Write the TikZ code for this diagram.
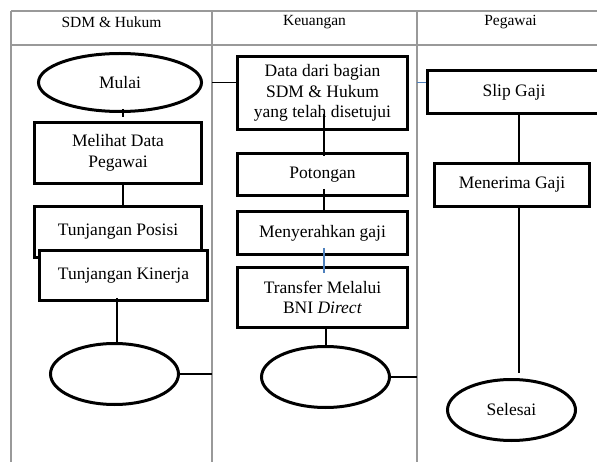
\documentclass[tikz,border=0pt]{standalone}
\usepackage{fontspec}
\setmainfont{Liberation Serif}
\usepackage{xcolor}
\usetikzlibrary{shapes.geometric, positioning}

\definecolor{linkblue}{HTML}{4F81BD}

\begin{document}
\begin{tikzpicture}[x=1pt, y=-1pt, thick,
    box/.style={draw, line width=3pt, fill=white, align=center, inner sep=2pt, font=\fontsize{17.5}{20.5}\selectfont},
    term/.style={ellipse, draw, line width=3pt, fill=white, inner sep=0pt, minimum width=128pt, minimum height=61pt, font=\fontsize{17.5}{20.5}\selectfont},
    link/.style={line width=2pt},
    lane/.style={draw=gray!80, line width=1.3pt},
    head/.style={font=\fontsize{15.5}{18}\selectfont}]
    \useasboundingbox (0,0) rectangle (597,462);

    \draw[lane] (11,11) -- (597,11);
    \draw[lane] (11,45) -- (597,45);
    \draw[lane] (11,11) -- (11,462);
    \draw[lane] (212,11) -- (212,462);
    \draw[lane] (417,11) -- (417,462);
    \coordinate (L1) at (212,45);
    \coordinate (L2) at (417,45);

    \node[head] (H1) at (111.5,22) {SDM \& Hukum};
    \node[head] (H2) at (314.5,22) {Keuangan};
    \node[head] (H3) at (510.5,22) {Pegawai};

    \node[term, minimum width=163pt, minimum height=58pt] (Mulai) at (120,82.5) {Mulai};
    \node[box, minimum width=167pt, minimum height=61pt] (Lihat) at (118,153) {Melihat Data\\Pegawai};
    \node[box, minimum width=167pt, minimum height=51pt] (Posisi) at (118,232) {Tunjangan Posisi};
    \node[box, minimum width=168pt, minimum height=50pt] (Kinerja) at (123.5,275.5) {Tunjangan Kinerja};
    \node[term] (Akhir1) at (114.5,374) {};

    \node[box, minimum width=170pt, minimum height=73pt] (Data) at (322.5,93) {Data dari bagian\\SDM \& Hukum\\yang telah disetujui};
    \node[box, minimum width=170pt, minimum height=42pt] (Potongan) at (322.5,174.5) {Potongan};
    \node[box, minimum width=170pt, minimum height=43pt] (Serah) at (322.5,233) {Menyerahkan gaji};
    \node[box, minimum width=170pt, minimum height=60pt] (Transfer) at (322.5,297.5) {Transfer Melalui\\BNI \textit{Direct}};
    \node[term] (Akhir2) at (325.5,377) {};

    \node[box, minimum width=173pt, minimum height=43pt] (Slip) at (514,92) {Slip Gaji};
    \node[box, minimum width=155pt, minimum height=43pt] (Terima) at (512,185) {Menerima Gaji};
    \node[term] (Selesai) at (511.5,410) {Selesai};

    \draw[link] ([xshift=3pt, yshift=4pt]Mulai.south) -- ([xshift=3pt, yshift=4pt]Mulai.south |- Lihat.north);
    \draw[link] ([xshift=5pt]Lihat.south) -- ([xshift=5pt]Posisi.north);
    \draw[link] ([xshift=2.5pt, yshift=4pt]Akhir1.north |- Kinerja.south) -- ([xshift=2.5pt]Akhir1.north);
    \draw[link, line width=1.5pt] (Akhir1.east) -- (Akhir1.east -| L1);
    \draw[link, line width=1.5pt] (Mulai.east -| L1) -- (Mulai.east -| Data.west);
    \draw[link] ([xshift=1.5pt, yshift=17pt]Data.south) -- ([xshift=1.5pt, yshift=-4pt]Potongan.north);
    \draw[link] ([xshift=1.5pt, yshift=8pt]Potongan.south) -- ([xshift=1.5pt, yshift=-3pt]Serah.north);
    \draw[link, draw=linkblue, line width=1.5pt] ([xshift=1.5pt, yshift=8pt]Serah.south) -- ([xshift=1.5pt, yshift=-7pt]Transfer.north);
    \draw[link] (Akhir2.north |- Transfer.south) -- (Akhir2.north);
    \draw[link, line width=1.5pt] (Akhir2.east) -- (Akhir2.east -| L2);
    \draw[link, draw=linkblue, line width=1.5pt] (Mulai.east -| L2) -- (Mulai.east -| Slip.west);
    \draw[link] ([xshift=5pt, yshift=2pt]Slip.south) -- ([xshift=5pt]Slip.south |- Terima.north);
    \draw[link] ([xshift=7pt]Terima.south) -- ([xshift=7.5pt, yshift=5pt]Selesai.north);
\end{tikzpicture}
\end{document}
